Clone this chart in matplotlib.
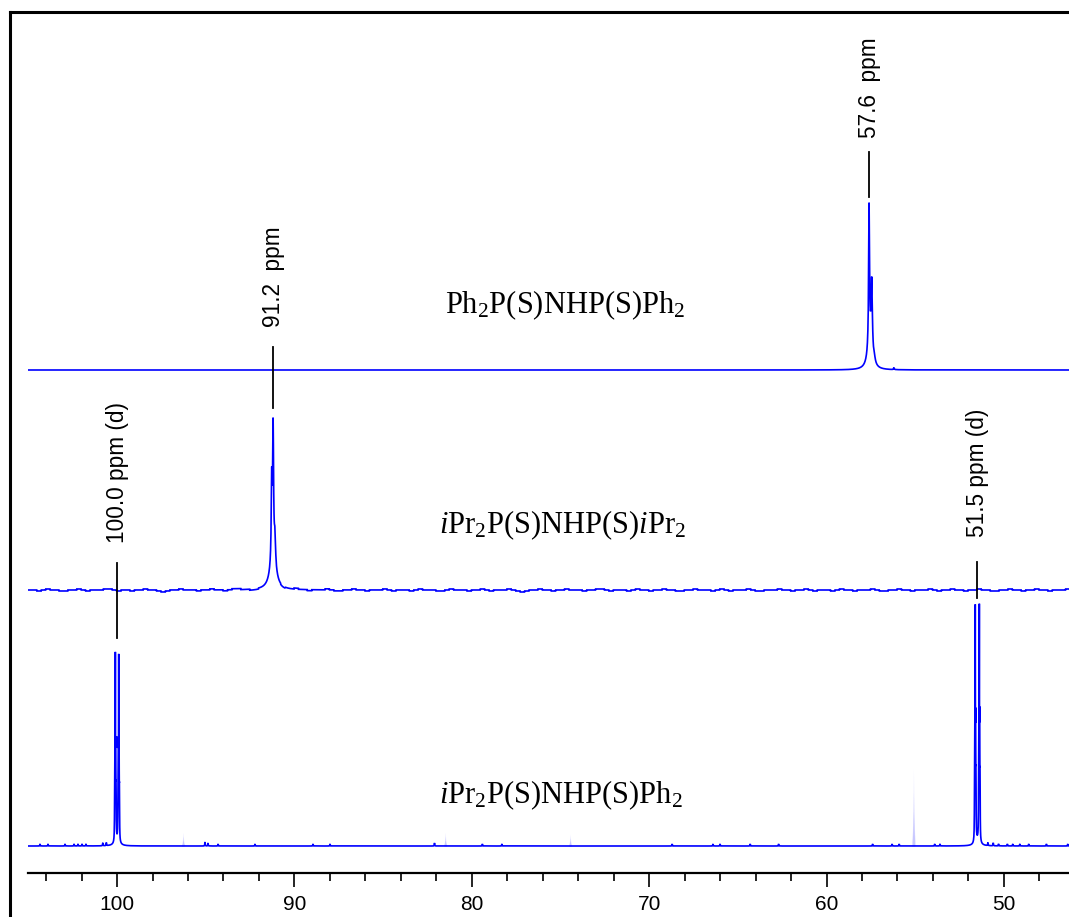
import numpy as np
import matplotlib
matplotlib.use("Agg")
import matplotlib.pyplot as plt
from matplotlib.lines import Line2D
from matplotlib.ticker import MultipleLocator

plt.rcParams['mathtext.fontset'] = 'custom'
plt.rcParams['mathtext.rm'] = 'Liberation Serif'
plt.rcParams['mathtext.it'] = 'Liberation Serif:italic'

# ---- axis ----
ppm_left, ppm_right = 105.02, 46.33
major_ticks = [100, 90, 80, 70, 60, 50]

# ---- trace 1: Ph2P(S)NHP(S)Ph2 ----
t1_pos = [57.60, 57.45, 57.55, 57.30, 56.20]
t1_hgt = [140, 70, 25, 4, 2]
t1_wid = [0.03, 0.04, 0.15, 0.06, 0.02]

# ---- trace 2: iPr2P(S)NHP(S)iPr2 ----
t2_pos = [91.20, 91.28, 91.10, 91.20]
t2_hgt = [128, 80, 25, 30]
t2_wid = [0.03, 0.03, 0.04, 0.20]
# baseline noise, one value per 0.25 ppm
t2_noise = [0, 0, -1, 0, 1, 0, 0, -1, -1, 0, 0, 1, 0, -1, 0, 0, 0, 1, 1, 0,
            -1, 0, 0, -1, 0, 0, 1, 0, 0, -1, -2, -1, 0, 0, 1, 0, 0, 0, -1, 0,
            0, 1, 0, 0, -1, 0, 1, 1, 0, 0, -1, -1, 0, 0, 0, 1, 0, -1, 0, 0,
            1, 0, 0, -1, 0, 0, 0, 1, 0, -1, -1, 0, 0, 1, 0, 0, -1, 0, 0, 0,
            1, 0, -1, 0, 0, 0, -1, 0, 1, 0, 0, 0, -1, -1, 0, 1, 0, 0, 0, -1,
            0, 0, 1, 0, -1, 0, 0, 0, 1, 0, -1, -2, -1, 0, 0, 1, 0, 0, -1, 0,
            0, 1, 0, 0, 0, -1, 0, 0, 1, 1, 0, -1, 0, 0, 0, -1, 0, 1, 0, 0,
            -1, 0, 0, 1, 0, 0, -1, -1, 0, 0, 1, 0, 0, 0, -1, 0, 1, 0, -1, 0,
            0, 0, 1, 0, -1, -1, 0, 0, 0, 1, 0, 0, -1, 0, 0, 1, 0, -1, 0, 0,
            0, -1, 0, 1, 0, 0, -1, 0, 0, 0, 1, 0, -1, -1, 0, 0, 1, 0, 0, -1,
            0, 0, 0, 1, 0, -1, 0, 0, 1, 0, 0, -1, 0, 0, 1, 0, 0, -1, -1, 0,
            0, 1, 0, 0, -1, 0, 0, 1, 0, 0, -1, 0, 0, 0, 1, 0]

# ---- trace 3: iPr2P(S)NHP(S)Ph2 (two doublets) ----
t3_pos = [100.095, 99.905,
          100.135, 100.115, 100.075, 100.055, 99.945, 99.925, 99.885, 99.865,
          100.0,
          51.615, 51.385,
          51.655, 51.635, 51.595, 51.575, 51.425, 51.405, 51.365, 51.345,
          51.5]
t3_hgt = [160, 158,
          40, 78, 76, 40, 40, 76, 78, 40,
          5,
          200, 200,
          50, 98, 98, 50, 50, 100, 100, 50,
          5]
t3_wid = [0.007, 0.007,
          0.009, 0.009, 0.009, 0.009, 0.009, 0.009, 0.009, 0.009,
          0.15,
          0.007, 0.007,
          0.009, 0.009, 0.009, 0.009, 0.009, 0.009, 0.009, 0.009,
          0.15]
# small spikes along the baseline
t3_spike_pos = [104.34, 103.89, 102.93, 102.42, 102.20, 101.97, 101.75,
                100.8, 100.6, 95.04, 94.87, 94.30, 92.22, 88.95, 87.99,
                82.10, 79.40, 78.30, 68.70, 66.40, 66.00, 64.30, 62.70,
                57.40, 56.30, 55.90, 53.90, 53.60, 50.90, 50.60, 50.30,
                49.80, 49.50, 49.10, 48.60, 47.60, 46.40]
t3_spike_hgt = [2, 2, 2, 2, 2, 2, 2,
                3, 3, 4, 3, 2, 2, 2, 2,
                3, 2, 2, 2, 2, 2, 2, 2,
                2, 2, 2, 2, 2, 3, 3, 2,
                2, 2, 2, 2, 2, 2]
# faint artefact peaks
t3_ghost_pos = [96.28, 81.50, 74.46, 55.10]
t3_ghost_hgt = [14, 14, 12, 78]

# vertical offsets of the stacked traces
offsets = [503, 283, 27]

names = [r"Ph$_2$P(S)NHP(S)Ph$_2$",
         r"$\mathit{i}$Pr$_2$P(S)NHP(S)$\mathit{i}$Pr$_2$",
         r"$\mathit{i}$Pr$_2$P(S)NHP(S)Ph$_2$"]

peak_labels = ["57.6  ppm", "91.2  ppm", "100.0 ppm (d)", "51.5 ppm (d)"]
peak_label_ppm = [57.6, 91.2, 100.0, 51.5]


def lorentz_sum(x, pos, hgt, wid):
    y = np.zeros_like(x)
    for p, h, w in zip(pos, hgt, wid):
        y += h / (1.0 + ((x - p) / w) ** 2)
    return y


x = np.arange(ppm_right, ppm_left, 0.0025)

y1 = offsets[0] + lorentz_sum(x, t1_pos, t1_hgt, t1_wid)

noise_idx = np.clip(((ppm_left - x) / 0.25).astype(int), 0, len(t2_noise) - 1)
y2 = offsets[1] + lorentz_sum(x, t2_pos, t2_hgt, t2_wid) + np.array(t2_noise)[noise_idx]

y3 = (offsets[2] + lorentz_sum(x, t3_pos, t3_hgt, t3_wid)
      + lorentz_sum(x, t3_spike_pos, t3_spike_hgt, [0.012] * len(t3_spike_pos)))

fig = plt.figure(figsize=(10.69, 9.17), dpi=100)
fig.patch.set_facecolor('white')
ax = fig.add_axes([28 / 1069, 44 / 917, 1041 / 1069, 861 / 917])
ax.set_xlim(ppm_left, ppm_right)
ax.set_ylim(0, 861)

blue = (0, 0, 1)
for yy in (y1, y2, y3):
    ax.plot(x, yy, color=blue, lw=1.2, solid_joinstyle='miter')

# faint artefact peaks on the bottom trace
for p, h in zip(t3_ghost_pos, t3_ghost_hgt):
    xs = np.linspace(p - 0.08, p + 0.08, 9)
    for frac in [1.0, 0.7, 0.45]:
        ax.fill_between(xs, offsets[2],
                        offsets[2] + h * frac / (1 + ((xs - p) / 0.03) ** 2),
                        color=blue, alpha=0.08, lw=0)

# peak marker lines and labels
marker_y = [(676, 721), (465, 526), (235, 310), (275, 311)]
text_y = [735, 546, 330, 336]
for ppm, (ya, yb), ty, lab in zip(peak_label_ppm, marker_y, text_y, peak_labels):
    ax.plot([ppm, ppm], [ya, yb], color='black', lw=1.3)
    ax.text(ppm, ty, lab, rotation=90, ha='center', va='bottom',
            fontsize=16.3, family='Liberation Sans')

# compound names
name_x = [74.75, 74.85, 75.0]
name_y = [560, 340, 70]
for nx, ny, nm in zip(name_x, name_y, names):
    ax.text(nx, ny, nm, ha='center', va='baseline', fontsize=22,
            family='Liberation Serif')

# axis styling
for s in ('top', 'left', 'right'):
    ax.spines[s].set_visible(False)
ax.spines['bottom'].set_linewidth(1.6)
ax.set_yticks([])
ax.set_xticks(major_ticks)
ax.set_xticklabels([str(t) for t in major_ticks], family='Liberation Sans')
ax.xaxis.set_minor_locator(MultipleLocator(2))
ax.tick_params(axis='x', which='major', direction='out', length=10, width=1.2,
               labelsize=15, pad=6)
ax.tick_params(axis='x', which='minor', direction='out', length=6, width=1.2)

# outer frame
fig.add_artist(Line2D([10 / 1069, 10 / 1069], [0, 1 - 12 / 917],
                      transform=fig.transFigure, color='black', lw=2.2))
fig.add_artist(Line2D([10 / 1069, 1], [1 - 12 / 917, 1 - 12 / 917],
                      transform=fig.transFigure, color='black', lw=2.2))

fig.savefig("out.png", dpi=100, facecolor='white')
